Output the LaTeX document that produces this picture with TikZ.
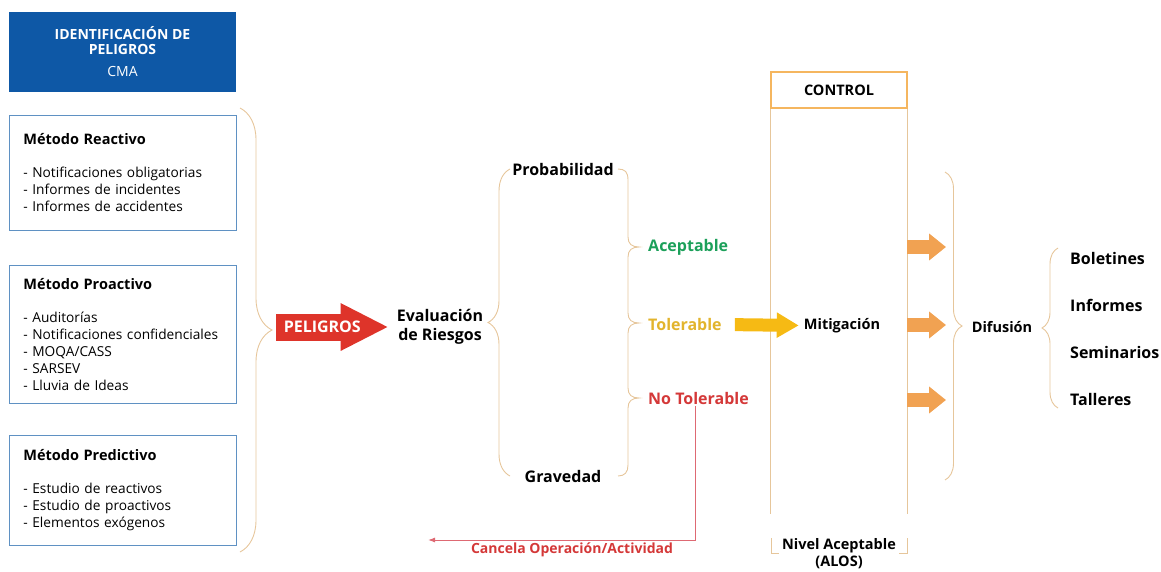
\documentclass[tikz,border=0pt]{standalone}
\usepackage{fontspec}
\setmainfont{Open Sans}
\usetikzlibrary{positioning,arrows.meta,decorations.pathreplacing}
\hyphenpenalty=10000

\definecolor{idblue}{RGB}{14,88,166}
\definecolor{boxblue}{RGB}{95,145,195}
\definecolor{bracetan}{RGB}{230,198,155}
\definecolor{pelred}{RGB}{222,52,42}
\definecolor{okgreen}{RGB}{28,160,90}
\definecolor{toltext}{RGB}{226,180,45}
\definecolor{tolarrow}{RGB}{246,186,20}
\definecolor{nored}{RGB}{212,56,56}
\definecolor{ctrlorange}{RGB}{245,182,95}
\definecolor{difarrow}{RGB}{241,162,82}
\definecolor{cancelpink}{RGB}{222,105,115}

\begin{document}
\begin{tikzpicture}[
    x=1pt, y=-1pt,
    every node/.style={font=\fontsize{14}{17}\selectfont, inner sep=2pt},
    titlebox/.style={fill=idblue, text=white, minimum width=227pt,
                     minimum height=80pt, align=center,
                     font=\fontsize{14}{14.5}\selectfont},
    methodbox/.style={draw=boxblue, line width=0.8pt, anchor=north west,
                      minimum width=227pt, inner xsep=14pt,
                      text width=199pt, align=left,
                      font=\fontsize{13.7}{17}\selectfont},
    lbl/.style={font=\fontsize{16}{19}\selectfont\bfseries, align=center},
    slbl/.style={font=\fontsize{14.5}{17}\selectfont\bfseries, align=center},
    brace/.style={draw=bracetan, line width=0.9pt, decorate},
    colline/.style={draw=bracetan, line width=0.9pt},
    fatarr/.style={line width=27pt, -{Triangle[length=48pt,width=44pt]}},
    midarr/.style={line width=13pt, -{Triangle[length=22pt,width=24pt]}},
    smallarr/.style={line width=14pt, -{Triangle[length=17pt,width=26pt]}},
  ]
  \useasboundingbox (0,0) rectangle (1161,571);

  % Identificacion
  \node[titlebox] (ident) at (122.5,52)
    {\textbf{IDENTIFICACIÓN DE}\\\textbf{PELIGROS}\\[8pt]CMA};

  \node[methodbox, minimum height=115pt] (reac) at (9,115)
    {{\fontsize{14.5}{17}\selectfont\bfseries Método Reactivo}\\[16pt]
     - Notificaciones obligatorias\\
     - Informes de incidentes\\
     - Informes de accidentes};
  \node[methodbox, minimum height=138pt] (proa) at (9,265)
    {{\fontsize{14.5}{17}\selectfont\bfseries Método Proactivo}\\[16pt]
     - Auditorías\\
     - Notificaciones confidenciales\\
     - MOQA/CASS\\
     - SARSEV\\
     - Lluvia de Ideas};
  \node[methodbox, minimum height=110pt] (pred) at (9,435)
    {{\fontsize{14.5}{17}\selectfont\bfseries Método Predictivo}\\[16pt]
     - Estudio de reactivos\\
     - Estudio de proactivos\\
     - Elementos exógenos};

  \draw[brace, decoration={brace, amplitude=32pt}] (240,108) -- (240,552);
  \coordinate (bigtip) at (276,327);

  % Evaluacion
  \node[lbl] (eval) at (440,327) {Evaluación\\de Riesgos};
  \draw[fatarr, pelred, shorten >=6pt] (bigtip) --
    node[pos=0.39, text=white, lbl] (pel) {PELIGROS} (eval);

  \node[lbl] (prob) at (563,169) {Probabilidad};
  \node[lbl] (grav) at (563,476) {Gravedad};
  \draw[brace, decoration={brace, amplitude=22pt}] (510,476) -- (510,169);

  % three way brace
  \draw[colline] (618,169) .. controls (625,169) and (628,172) .. (628,180)
    -- (628,237) .. controls (628,244) and (632,247) .. (639,247)
    .. controls (632,247) and (628,250) .. (628,257)
    -- (628,313) .. controls (628,320) and (632,323) .. (639,323)
    .. controls (632,323) and (628,326) .. (628,333)
    -- (628,388) .. controls (628,395) and (632,398) .. (639,398)
    .. controls (632,398) and (628,401) .. (628,408)
    -- (628,465) .. controls (628,472) and (625,476) .. (618,476);

  \node[lbl, text=okgreen, anchor=west] (acep) at (646,247) {Aceptable};
  \node[lbl, text=toltext, anchor=west] (tol) at (646,324) {Tolerable};
  \node[lbl, text=nored, anchor=west] (notol) at (646,398) {No Tolerable};

  % Cancela
  \coordinate (cancelend) at (428,540);
  \draw[cancelpink, line width=1pt, -{Latex[length=7pt,width=5pt]}]
    ([xshift=-3pt]notol.south) |- (cancelend);
  \node[slbl, text=nored, font=\fontsize{14}{17}\selectfont\bfseries] (cancel)
    at (572,550) {Cancela Operación/Actividad};

  % Control
  \node[draw=ctrlorange, line width=1.5pt, slbl, minimum width=136pt,
        minimum height=36pt] (ctrl) at (839,90) {CONTROL};
  \draw[colline] (ctrl.south west) -- ++(0,405);
  \draw[colline] (ctrl.south east) -- ++(0,405);
  \draw[colline] (771,538) |- (779,553);
  \draw[colline] (907,538) |- (899,553);
  \node[slbl] (alos) at (839,554) {Nivel Aceptable\\(ALOS)};

  \node[slbl] (mit) at (842,326) {Mitigación};
  \draw[midarr, tolarrow, shorten <=11pt, shorten >=3pt] (tol) -- (mit);

  % Difusion
  \foreach \y [count=\i] in {247,325,400} {
    \coordinate (o\i) at (907,\y);
    \coordinate (d\i) at (946,\y);
    \draw[smallarr, difarrow] (o\i) -- (d\i);
  }
  \draw[brace, decoration={brace, amplitude=17pt}] (945,172) -- (945,480);
  \node[slbl] (dif) at (1002,327) {Difusión};
  \draw[brace, decoration={brace, amplitude=16pt}] (1058,408) -- (1058,248);

  \node[lbl, anchor=west] (bol) at (1068,258) {Boletines};
  \node[lbl, anchor=west] (inf) at (1068,305) {Informes};
  \node[lbl, anchor=west] (sem) at (1068,352) {Seminarios};
  \node[lbl, anchor=west] (tall) at (1068,399) {Talleres};

\end{tikzpicture}
\end{document}
